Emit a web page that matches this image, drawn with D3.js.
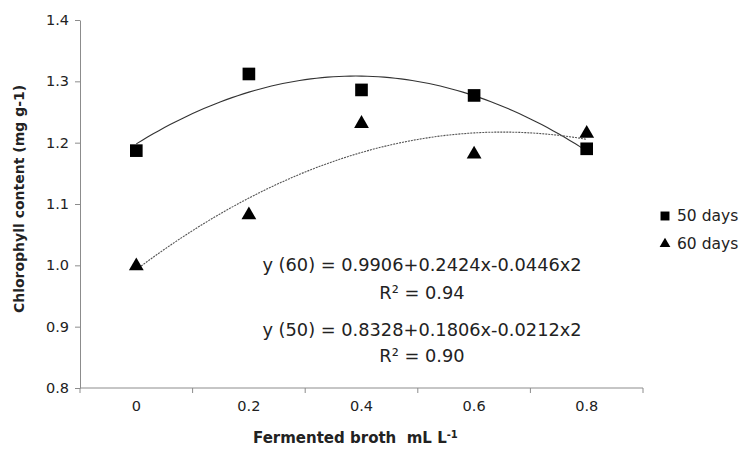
<!DOCTYPE html>
<html>
<head>
<meta charset="utf-8">
<script src="https://cdn.jsdelivr.net/npm/d3@7"></script>
<style>
  body { margin: 0; background: #fff; }
  text { font-family: "Century Gothic", "DejaVu Sans", sans-serif; fill: #222; }
</style>
</head>
<body>
<div id="chart"></div>
<script>
const WIDTH = 749;
const HEIGHT = 452;

// data
var categories = ["0", "0.2", "0.4", "0.6", "0.8"];
var days50 = [1.187, 1.312, 1.286, 1.277, 1.190];
var days60 = [0.999, 1.082, 1.231, 1.181, 1.215];
var yTicks = [0.8, 0.9, 1.0, 1.1, 1.2, 1.3, 1.4];
var legendLabels = ["50 days", "60 days"];
var equations = [
  "y (60) = 0.9906+0.2424x-0.0446x2", "R² = 0.94",
  "y (50) = 0.8328+0.1806x-0.0212x2", "R² = 0.90"
];

var margin = { left: 80, right: 106, top: 20, bottom: 64 };

var svg = d3.select("#chart").append("svg")
    .attr("width", WIDTH)
    .attr("height", HEIGHT);

var x = d3.scaleBand()
    .domain(categories)
    .range([margin.left, WIDTH - margin.right])
    .padding(0);

var y = d3.scaleLinear()
    .domain([0.8, 1.4])
    .range([HEIGHT - margin.bottom, margin.top]);

var cx = d => x(d) + x.bandwidth() / 2;

// y axis
var yAxis = svg.append("g")
    .attr("transform", "translate(" + margin.left + ",0)")
    .call(d3.axisLeft(y).tickValues(yTicks).tickFormat(d3.format(".1f")).tickSize(5).tickSizeOuter(0));
yAxis.selectAll("path, line").attr("stroke", "#8c8c8c");
yAxis.selectAll("text").attr("font-size", 14.5).attr("x", -11).attr("fill", "#333");

// x axis: ticks between categories, like the spreadsheet
var x0 = margin.left, x1 = WIDTH - margin.right, yb = y(0.8);
var xAxis = svg.append("g");
xAxis.append("line")
    .attr("x1", x0).attr("x2", x1).attr("y1", yb).attr("y2", yb)
    .attr("stroke", "#8c8c8c");
var bounds = categories.map(d => x(d)).concat([x1]);
xAxis.selectAll(".tick").data(bounds).join("line")
    .attr("x1", d => d).attr("x2", d => d)
    .attr("y1", yb).attr("y2", yb + 5)
    .attr("stroke", "#8c8c8c");
xAxis.selectAll(".lab").data(categories).join("text")
    .attr("x", d => cx(d))
    .attr("y", yb + 18)
    .attr("dy", "0.35em")
    .attr("text-anchor", "middle")
    .attr("font-size", 14.5)
    .attr("fill", "#333")
    .text(d => d);

// quadratic trend lines (least squares on category position)
function quadFit(vals) {
  var xs = vals.map((v, i) => i + 1);
  var m = d3.mean(xs);
  var t = xs.map(v => v - m);
  var meanT2 = d3.mean(t.map(u => u * u));
  var p2 = t.map(v => v * v - meanT2);
  var a = d3.mean(vals);
  var b = d3.sum(t.map((v, i) => v * vals[i])) / d3.sum(t.map(v => v * v));
  var c = d3.sum(p2.map((v, i) => v * vals[i])) / d3.sum(p2.map(v => v * v));
  return k => a + b * (k - m) + c * ((k - m) * (k - m) - meanT2);
}

var posScale = d3.scaleLinear().domain([1, categories.length])
    .range([cx(categories[0]), cx(categories[categories.length - 1])]);

function trend(vals) {
  var f = quadFit(vals);
  return d3.range(1, categories.length + 0.001, 0.05).map(k => [posScale(k), y(f(k))]);
}

var line = d3.line();
svg.append("path")
    .attr("d", line(trend(days50)))
    .attr("fill", "none")
    .attr("stroke", "#333")
    .attr("stroke-width", 1.1);
svg.append("path")
    .attr("d", line(trend(days60)))
    .attr("fill", "none")
    .attr("stroke", "#555")
    .attr("stroke-width", 1.1)
    .attr("stroke-dasharray", "2,1");

// markers
var sq = d3.symbol().type(d3.symbolSquare).size(160);
var tri = d3.symbol().type(d3.symbolTriangle).size(95);

svg.selectAll(".s50").data(days50).join("path")
    .attr("d", sq)
    .attr("transform", (d, i) => "translate(" + cx(categories[i]) + "," + y(d) + ")")
    .attr("fill", "#000");
svg.selectAll(".s60").data(days60).join("path")
    .attr("d", tri)
    .attr("transform", (d, i) => "translate(" + cx(categories[i]) + "," + y(d) + ")")
    .attr("fill", "#000");

// equations
var eqY = [265, 293, 330, 356];
svg.selectAll(".eq").data(equations).join("text")
    .attr("x", 422)
    .attr("y", (d, i) => eqY[i])
    .attr("dy", "0.35em")
    .attr("text-anchor", "middle")
    .attr("font-size", 17.8)
    .text(d => d);

// legend
var lg = svg.append("g").attr("transform", "translate(665,216)");
lg.append("path").attr("d", d3.symbol().type(d3.symbolSquare).size(80)).attr("fill", "#000");
lg.append("path").attr("d", d3.symbol().type(d3.symbolTriangle).size(50))
    .attr("transform", "translate(0,28)").attr("fill", "#000");
lg.selectAll("text").data(legendLabels).join("text")
    .attr("x", 12)
    .attr("y", (d, i) => i * 28)
    .attr("dy", "0.35em")
    .attr("font-size", 15.5)
    .text(d => d);

// axis titles
svg.append("text")
    .attr("transform", "translate(19,199) rotate(-90)")
    .attr("dy", "0.35em")
    .attr("text-anchor", "middle")
    .attr("font-size", 14)
    .attr("font-weight", "bold")
    .text("Chlorophyll content (mg g-1)");

var xt = svg.append("text")
    .attr("x", 253)
    .attr("y", 443)
    .attr("font-size", 15)
    .attr("font-weight", "bold")
    .attr("xml:space", "preserve");
xt.append("tspan").text("Fermented broth  mL L");
xt.append("tspan").attr("dy", -5).attr("font-size", 10).text("-1");
</script>
</body>
</html>
